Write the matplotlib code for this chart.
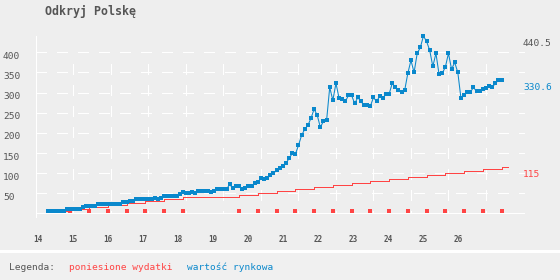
import numpy as np
import matplotlib.pyplot as plt
from matplotlib.patches import Rectangle

plt.rcParams['font.family'] = ['DejaVu Sans Mono']
plt.rcParams['lines.scale_dashes'] = False

# --- data -------------------------------------------------------------
title = 'Odkryj Polskę'
year_labels = ['14', '15', '16', '17', '18', '19', '20', '21', '22', '23', '24', '25', '26']

# market value, one point per month (month index 4 .. 149)
blue_months = list(range(4, 150))
blue_values = [
    5.5, 5.5, 5.5, 5.5, 5.5, 5.5, 10, 10, 10, 10, 10, 15, 18, 18, 18, 18,
    23, 23, 23, 23, 23, 23, 23, 23, 28, 28, 30, 30, 35, 35, 35, 35, 35, 35,
    38, 36, 38, 43, 43, 43, 43, 43, 48, 53, 51, 51, 53, 51, 56, 56, 56, 56,
    53, 56, 61, 61, 61, 61, 72, 62.5, 67.5, 67.5, 60, 62.5, 67.5, 67.5,
    75, 78, 87, 85, 87, 95, 100, 107, 112, 117,
    124.5, 137, 149, 147, 169, 194, 209, 219, 236, 259,
    244, 214, 229, 231, 313, 281, 323, 286, 283, 278,
    293, 293, 273, 288, 278, 268.5, 268.5, 266, 288, 278,
    291, 286, 296, 296, 323, 313, 306, 301, 306, 348,
    380, 350, 397.5, 412, 440.5, 427, 405, 365, 397.5, 345,
    348, 363, 397.5, 358, 375, 350, 286, 293, 301, 301,
    313, 303, 303, 308, 311, 315.6, 313, 323, 330.6, 330.6,
]
assert len(blue_months) == len(blue_values)

# payments (red squares) and cumulative spending (red steps)
pay_months = [11, 17, 23, 29, 35, 41, 47, 65, 71, 77, 83, 89, 95, 101, 107,
              113, 119, 125, 131, 137, 143, 149]
pay_values = [5, 5, 5, 5, 5, 5, 5, 5, 5, 5, 5, 5, 5, 5, 5, 5, 5, 5, 5, 5, 5, 5]
spent_months = [4] + pay_months + [151]
spent_values = [5, 10, 15, 20, 25, 30, 35, 40, 45, 50, 55, 60, 65, 70, 75,
                80, 85, 90, 95, 100, 105, 110, 115, 115]

y_ticks = [50, 100, 150, 200, 250, 300, 350, 400]

# --- style ------------------------------------------------------------
BG = '#eeeeee'
BLUE = '#0a88cc'
RED = '#ff4444'
GRAY = '#555555'
W, H = 560, 280

fig = plt.figure(figsize=(W / 100, H / 100), dpi=100, facecolor=BG)

# legend strip at the bottom
fig.patches.append(Rectangle((0, 0), 1, 1 - 253 / H, transform=fig.transFigure,
                             facecolor='#f0f0f0', edgecolor='none', zorder=0))
fig.patches.append(Rectangle((0, 1 - 253 / H), 1, 3.5 / H, transform=fig.transFigure,
                             facecolor='white', edgecolor='none', zorder=0))

ax = fig.add_axes([36 / W, 1 - 217 / H, (525 - 36) / W, (217 - 36) / H])
ax.set_facecolor(BG)
ax.set_xlim(0, 156.5)
ax.set_ylim(-8.7, 440.5)
for s in ['top', 'right', 'bottom']:
    ax.spines[s].set_visible(False)
ax.spines['left'].set_color('white')
ax.spines['left'].set_linewidth(0.8)

# grid
dash = (0, (7.2, 7.2))
for v in y_ticks:
    ax.axhline(v, color='white', lw=0.7, ls=dash, zorder=1, antialiased=False)
for gx in np.arange(12, 150, 12):
    ax.plot([gx, gx], [372, 0], color='white', lw=0.7, ls=dash, zorder=1,
            antialiased=False)
ax.axhline(0, color='white', lw=0.7, zorder=1, antialiased=False)

# series
ax.plot(spent_months, spent_values, drawstyle='steps-post', color=RED,
        lw=0.7, zorder=2, antialiased=False)
ax.plot(pay_months, pay_values, 's', color=RED, ms=2.4, mew=0, zorder=3)
ax.plot(blue_months, blue_values, '-s', color=BLUE, lw=0.75, ms=2.4, mew=0,
        zorder=4, clip_on=False)

# x ticks (year labels)
ax.set_xticks(np.linspace(0.64, 135.0, len(year_labels)))
ax.set_xticklabels(year_labels, fontsize=5.5, fontweight='bold', color=GRAY)
ax.tick_params(axis='x', length=0, pad=13)
ax.set_yticks([])

# y labels, left aligned at the figure edge
for v in y_ticks:
    ax.annotate(str(v), xy=(0, v), xycoords=('axes fraction', 'data'),
                xytext=(-33, -4), textcoords='offset pixels',
                ha='left', va='center', fontsize=6.8, color=GRAY)

# right side value labels
right_labels = [(max(blue_values), GRAY), (blue_values[-1], BLUE),
                (spent_values[-1], RED)]
for v, c in right_labels:
    ax.annotate(f'{v:g}', xy=(1, v), xycoords=('axes fraction', 'data'),
                xytext=(-2, -7), textcoords='offset pixels',
                ha='left', va='center', fontsize=6.8, color=c,
                annotation_clip=False)

fig.text(45 / W, 1 - 12 / H, title, ha='left', va='center',
         fontsize=8.4, fontweight='bold', color=GRAY)

fig.text(9 / W, 1 - 267.5 / H, 'Legenda:', ha='left', va='center',
         fontsize=6.8, color=GRAY)
fig.text(69 / W, 1 - 267.5 / H, 'poniesione wydatki', ha='left', va='center',
         fontsize=6.8, color=RED)
fig.text(187 / W, 1 - 267.5 / H, 'wartość rynkowa', ha='left', va='center',
         fontsize=6.8, color=BLUE)

fig.savefig('out.png', dpi=100, facecolor=BG)
